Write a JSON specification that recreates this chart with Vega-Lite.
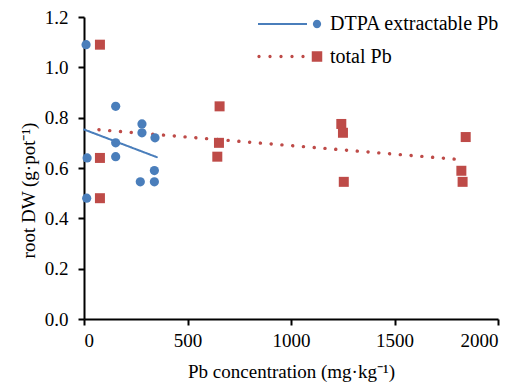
{
  "$schema": "https://vega.github.io/schema/vega-lite/v6.json",
  "autosize": "none",
  "width": 414,
  "height": 302,
  "padding": {"left": 84, "top": 17, "right": 30, "bottom": 64},
  "background": "white",
  "datasets": {
    "pts": [
      {"series": "DTPA extractable Pb", "pb": 10, "dw": 1.09},
      {"series": "DTPA extractable Pb", "pb": 15, "dw": 0.64},
      {"series": "DTPA extractable Pb", "pb": 13, "dw": 0.48},
      {"series": "DTPA extractable Pb", "pb": 153, "dw": 0.845},
      {"series": "DTPA extractable Pb", "pb": 153, "dw": 0.70},
      {"series": "DTPA extractable Pb", "pb": 153, "dw": 0.645},
      {"series": "DTPA extractable Pb", "pb": 280, "dw": 0.775},
      {"series": "DTPA extractable Pb", "pb": 280, "dw": 0.74},
      {"series": "DTPA extractable Pb", "pb": 272, "dw": 0.545},
      {"series": "DTPA extractable Pb", "pb": 343, "dw": 0.72},
      {"series": "DTPA extractable Pb", "pb": 340, "dw": 0.59},
      {"series": "DTPA extractable Pb", "pb": 340, "dw": 0.545},
      {"series": "total Pb", "pb": 77, "dw": 1.09},
      {"series": "total Pb", "pb": 77, "dw": 0.64},
      {"series": "total Pb", "pb": 77, "dw": 0.48},
      {"series": "total Pb", "pb": 655, "dw": 0.845},
      {"series": "total Pb", "pb": 652, "dw": 0.70},
      {"series": "total Pb", "pb": 644, "dw": 0.645},
      {"series": "total Pb", "pb": 1243, "dw": 0.775},
      {"series": "total Pb", "pb": 1251, "dw": 0.74},
      {"series": "total Pb", "pb": 1255, "dw": 0.545},
      {"series": "total Pb", "pb": 1844, "dw": 0.723},
      {"series": "total Pb", "pb": 1823, "dw": 0.589},
      {"series": "total Pb", "pb": 1829, "dw": 0.545}
    ],
    "trend": [
      {"series": "DTPA extractable Pb", "pb": 0, "dw": 0.753},
      {"series": "DTPA extractable Pb", "pb": 352, "dw": 0.643},
      {"series": "total Pb", "pb": 72, "dw": 0.752},
      {"series": "total Pb", "pb": 1810, "dw": 0.634}
    ]
  },
  "layer": [
    {
      "data": {"name": "trend"},
      "mark": {"type": "line", "strokeCap": "round"},
      "encoding": {
        "x": {"field": "pb", "type": "quantitative"},
        "y": {"field": "dw", "type": "quantitative"},
        "color": {"field": "series", "type": "nominal", "legend": null,
          "scale": {"domain": ["DTPA extractable Pb", "total Pb"], "range": ["#4A7EBB", "#BE4B48"]}},
        "strokeDash": {"field": "series", "type": "nominal", "legend": null,
          "scale": {"domain": ["DTPA extractable Pb", "total Pb"], "range": [[1, 0], [0.1, 10.7]]}},
        "strokeWidth": {"field": "series", "type": "nominal", "legend": null,
          "scale": {"domain": ["DTPA extractable Pb", "total Pb"], "range": [2, 3.4]}}
      }
    },
    {
      "data": {"name": "pts"},
      "mark": {"type": "point", "filled": true, "opacity": 1, "strokeWidth": 0},
      "encoding": {
        "x": {"field": "pb", "type": "quantitative",
          "scale": {"domain": [0, 2000], "nice": false},
          "axis": {"values": [0, 500, 1000, 1500, 2000], "format": "d", "title": "Pb concentration (mg·kg⁻¹)"}},
        "y": {"field": "dw", "type": "quantitative",
          "scale": {"domain": [0, 1.2], "nice": false},
          "axis": {"values": [0, 0.2, 0.4, 0.6, 0.8, 1.0, 1.2], "format": ".1f", "title": "root DW (g·pot⁻¹)", "titleY": 173}},
        "color": {"field": "series", "type": "nominal", "legend": null},
        "shape": {"field": "series", "type": "nominal", "legend": null,
          "scale": {"domain": ["DTPA extractable Pb", "total Pb"], "range": ["circle", "square"]}},
        "size": {"field": "series", "type": "nominal", "legend": null,
          "scale": {"domain": ["DTPA extractable Pb", "total Pb"], "range": [85, 100]}}
      }
    },
    {
      "data": {"name": "pts"},
      "transform": [{"filter": "datum.series === 'none'"}],
      "mark": {"type": "point", "filled": true, "opacity": 1, "strokeWidth": 0, "color": "#4A7EBB"},
      "encoding": {
        "x": {"field": "pb", "type": "quantitative"},
        "y": {"field": "dw", "type": "quantitative"},
        "shape": {"field": "series", "type": "nominal",
          "scale": {"domain": ["DTPA extractable Pb"], "range": ["M-11.8,-0.2L-2,-0.2L-2,0.2L-11.8,0.2ZM0.84,0L0.727,0.42L0.42,0.727L0,0.84L-0.42,0.727L-0.727,0.42L-0.84,0L-0.727,-0.42L-0.42,-0.727L0,-0.84L0.42,-0.727L0.727,-0.42Z"]},
          "legend": {"orient": "none", "legendX": 223, "legendY": -3, "title": null, "padding": 0,
            "symbolSize": 100, "symbolStrokeWidth": 0, "symbolOpacity": 1, "symbolFillColor": "#4A7EBB",
            "labelOffset": 3, "labelFont": "Liberation Serif", "labelFontSize": 20, "labelColor": "black", "labelLimit": 300}}
      }
    },
    {
      "data": {"name": "pts"},
      "transform": [{"filter": "datum.series === 'none'"}],
      "mark": {"type": "point", "filled": true, "opacity": 1, "strokeWidth": 0, "color": "#BE4B48"},
      "encoding": {
        "x": {"field": "pb", "type": "quantitative"},
        "y": {"field": "dw", "type": "quantitative"},
        "shape": {"field": "series", "type": "nominal",
          "scale": {"domain": ["total Pb"], "range": ["M-11.26,0L-11.36,0.24L-11.6,0.34L-11.84,0.24L-11.94,0L-11.84,-0.24L-11.6,-0.34L-11.36,-0.24ZM-9.06,0L-9.16,0.24L-9.4,0.34L-9.64,0.24L-9.74,0L-9.64,-0.24L-9.4,-0.34L-9.16,-0.24ZM-6.86,0L-6.96,0.24L-7.2,0.34L-7.44,0.24L-7.54,0L-7.44,-0.24L-7.2,-0.34L-6.96,-0.24ZM-4.66,0L-4.76,0.24L-5,0.34L-5.24,0.24L-5.34,0L-5.24,-0.24L-5,-0.34L-4.76,-0.24ZM-2.46,0L-2.56,0.24L-2.8,0.34L-3.04,0.24L-3.14,0L-3.04,-0.24L-2.8,-0.34L-2.56,-0.24ZM-1.05,-1.05L1.05,-1.05L1.05,1.05L-1.05,1.05Z"]},
          "legend": {"orient": "none", "legendX": 223, "legendY": 29.5, "title": null, "padding": 0,
            "symbolSize": 100, "symbolStrokeWidth": 0, "symbolOpacity": 1, "symbolFillColor": "#BE4B48",
            "labelOffset": 3, "labelFont": "Liberation Serif", "labelFontSize": 20, "labelColor": "black", "labelLimit": 300}}
      }
    }
  ],
  "resolve": {"scale": {"shape": "independent"}, "legend": {"shape": "independent"}},
  "config": {
    "view": {"stroke": null},
    "axis": {
      "grid": false,
      "domainColor": "black", "domainWidth": 2,
      "tickColor": "black", "tickWidth": 2, "tickSize": 6,
      "labelFont": "Liberation Serif", "labelFontSize": 19, "labelColor": "black",
      "titleFont": "Liberation Serif", "titleFontSize": 19, "titleFontWeight": "normal", "titleColor": "black"
    },
    "axisX": {"labelPadding": 6, "titlePadding": 12},
    "axisY": {"labelPadding": 10, "titlePadding": 6}
  }
}
